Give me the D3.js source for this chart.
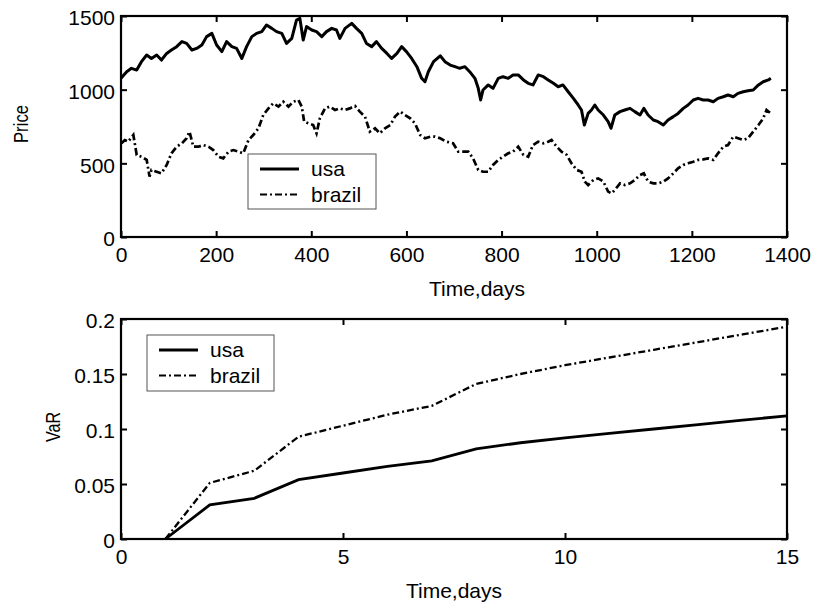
<!DOCTYPE html>
<meta charset="utf-8">
<script src="https://d3js.org/d3.v7.min.js"></script>
<style>
  body { margin: 0; background: #fff; }
  text { font-family: "Liberation Sans", Arial, sans-serif; font-size: 21px; fill: #000; }
</style>
<svg id="chart" width="813" height="603"></svg>
<script>

  // top panel: price series, [day, price]
  var usaPrice = [[0,1077],[12,1122],[22,1145],[33,1133],[43,1190],[54,1235],[64,1212],[75,1235],[85,1201],[96,1246],[106,1269],[117,1292],[128,1326],[138,1314],[149,1269],[159,1280],[170,1303],[180,1360],[191,1382],[201,1303],[212,1258],[222,1326],[233,1292],[243,1280],[254,1212],[264,1292],[275,1360],[285,1382],[296,1394],[306,1439],[317,1416],[327,1394],[338,1382],[348,1314],[359,1348],[369,1473],[376,1484],[383,1337],[390,1428],[401,1405],[411,1394],[422,1360],[432,1394],[443,1416],[453,1405],[460,1348],[471,1416],[485,1450],[495,1416],[506,1382],[516,1314],[527,1292],[537,1326],[548,1280],[559,1246],[569,1212],[580,1246],[590,1292],[600,1258],[611,1212],[622,1156],[632,1077],[639,1054],[646,1122],[657,1190],[671,1230],[681,1190],[692,1167],[702,1156],[712,1145],[723,1156],[733,1122],[744,1077],[751,1009],[756,930],[761,998],[772,1032],[782,1009],[793,1077],[803,1088],[814,1077],[824,1100],[835,1100],[846,1066],[856,1043],[866,1032],[877,1100],[888,1088],[898,1066],[909,1043],[919,1020],[929,1032],[940,986],[951,941],[961,896],[968,862],[974,760],[982,839],[989,862],[996,896],[1003,862],[1014,828],[1024,783],[1030,738],[1038,828],[1049,851],[1059,862],[1070,873],[1080,851],[1091,828],[1099,873],[1108,828],[1119,794],[1129,783],[1140,760],[1150,794],[1161,817],[1171,839],[1182,873],[1192,896],[1203,930],[1213,941],[1224,930],[1234,930],[1245,918],[1255,941],[1266,952],[1276,964],[1287,952],[1297,975],[1308,986],[1318,993],[1329,998],[1340,1032],[1350,1054],[1361,1066],[1366,1077]];

  var brazilPrice = [[1,636],[8,658],[15,647],[26,692],[33,557],[43,545],[54,523],[60,410],[64,455],[75,443],[85,432],[96,489],[106,568],[117,613],[128,636],[138,670],[144,715],[152,613],[163,613],[173,624],[184,613],[194,590],[205,545],[215,534],[226,579],[236,590],[247,579],[257,568],[268,658],[278,692],[289,738],[299,828],[310,873],[320,907],[331,885],[341,918],[352,885],[362,918],[373,930],[380,885],[385,783],[394,771],[404,760],[411,704],[418,805],[429,873],[439,885],[450,862],[460,873],[471,862],[481,873],[492,889],[502,851],[513,817],[523,715],[534,738],[544,704],[555,738],[566,760],[576,817],[587,851],[597,828],[608,805],[618,771],[629,692],[639,670],[650,681],[660,681],[671,670],[684,647],[698,636],[709,579],[719,579],[730,579],[740,534],[751,455],[761,443],[772,443],[782,489],[793,523],[803,545],[814,568],[824,579],[835,613],[846,557],[856,545],[866,624],[877,647],[888,636],[898,647],[905,658],[916,613],[926,579],[937,557],[947,500],[958,455],[968,443],[975,376],[982,353],[993,387],[1003,398],[1014,376],[1024,308],[1031,296],[1038,319],[1049,364],[1059,353],[1070,364],[1080,387],[1091,421],[1099,432],[1108,376],[1119,364],[1129,364],[1140,376],[1150,398],[1161,432],[1171,466],[1182,489],[1192,500],[1203,511],[1213,523],[1224,527],[1234,534],[1245,523],[1255,568],[1266,613],[1276,624],[1287,681],[1297,670],[1308,658],[1318,670],[1329,715],[1340,760],[1350,805],[1357,862],[1366,839]];

  // bottom panel: VaR by horizon
  var varDays = [1,2,3,4,5,6,7,8,9,10,11,12,13,14,15];
  var usaVaR = [0,0.031,0.037,0.054,0.060,0.066,0.071,0.082,0.0875,0.092,0.096,0.100,0.104,0.108,0.112];
  var brazilVaR = [0,0.051,0.062,0.093,0.103,0.113,0.121,0.141,0.150,0.158,0.165,0.172,0.179,0.186,0.193];

  var priceTicksX = [0,200,400,600,800,1000,1200,1400];
  var priceTicksY = [0,500,1000,1500];
  var varTicksX = [0,5,10,15];
  var varTicksY = [0,0.05,0.1,0.15,0.2];
  var seriesNames = ["usa","brazil"];

  var svg = d3.select("#chart");
  var dashDot = "7,3,2,3";

  function panel(top, bottom, xDom, yDom, xTicks, yTicks, yFmt) {
    var left = 121, right = 787;
    var x = d3.scaleLinear().domain(xDom).range([left, right]);
    var y = d3.scaleLinear().domain(yDom).range([bottom, top]);
    var g = svg.append("g");

    // inward ticks on all four sides
    g.append("g").attr("transform", "translate(0," + bottom + ")")
      .call(d3.axisBottom(x).tickValues(xTicks).tickSize(-6).tickSizeOuter(0).tickPadding(10.5).tickFormat(d3.format("d")));
    g.append("g").attr("transform", "translate(0," + top + ")")
      .call(d3.axisTop(x).tickValues(xTicks).tickSize(-6).tickSizeOuter(0).tickFormat(""));
    g.append("g").attr("transform", "translate(" + left + ",0)")
      .call(d3.axisLeft(y).tickValues(yTicks).tickSize(-6).tickSizeOuter(0).tickPadding(6).tickFormat(yFmt))
      .selectAll("text").attr("dy", "0.42em");
    g.append("g").attr("transform", "translate(" + right + ",0)")
      .call(d3.axisRight(y).tickValues(yTicks).tickSize(-6).tickSizeOuter(0).tickFormat(""));

    g.selectAll(".domain").remove();
    g.selectAll(".tick line").attr("stroke", "#000").attr("stroke-width", 2);
    g.selectAll(".tick text").attr("font-size", null).attr("font-family", null);

    g.append("rect")
      .attr("x", left).attr("y", top)
      .attr("width", right - left).attr("height", bottom - top)
      .attr("fill", "none").attr("stroke", "#000").attr("stroke-width", 2.2);

    return { g: g, x: x, y: y };
  }

  function legend(g, bx, by, w, h) {
    var lg = g.append("g").attr("transform", "translate(" + bx + "," + by + ")");
    lg.append("rect").attr("width", w).attr("height", h)
      .attr("fill", "#fff").attr("stroke", "#555").attr("stroke-width", 1);
    seriesNames.forEach(function (name, i) {
      var ly = 15 + i * 25.5;
      lg.append("line")
        .attr("x1", 12).attr("x2", 51).attr("y1", ly).attr("y2", ly)
        .attr("stroke", "#000").attr("stroke-width", i ? 2.2 : 2.8)
        .attr("stroke-dasharray", i ? dashDot : null);
      lg.append("text").attr("x", 63).attr("y", ly + 7).text(name);
    });
  }

  // ---- top: prices
  var p1 = panel(16, 237, [0, 1400], [0, 1500], priceTicksX, priceTicksY, d3.format("d"));
  var line1 = d3.line().x(function (d) { return p1.x(d[0]); }).y(function (d) { return p1.y(d[1]); });

  p1.g.append("path").datum(usaPrice).attr("d", line1)
    .attr("fill", "none").attr("stroke", "#000").attr("stroke-width", 3).attr("stroke-linejoin", "round");
  p1.g.append("path").datum(brazilPrice).attr("d", line1)
    .attr("fill", "none").attr("stroke", "#000").attr("stroke-width", 2.7)
    .attr("stroke-dasharray", dashDot);

  legend(p1.g, 248, 154, 128, 55);

  svg.append("text").attr("x", 477).attr("y", 296).attr("text-anchor", "middle").text("Time,days");
  svg.append("text").attr("transform", "translate(28,124) rotate(-90)")
    .attr("text-anchor", "middle").attr("textLength", 38).attr("lengthAdjust", "spacingAndGlyphs").text("Price");

  // ---- bottom: VaR
  var p2 = panel(319, 539, [0, 15], [0, 0.2], varTicksX, varTicksY, function (d) { return d3.format("~g")(d); });
  var line2 = d3.line().x(function (d) { return p2.x(d[0]); }).y(function (d) { return p2.y(d[1]); });

  p2.g.append("path").datum(d3.zip(varDays, usaVaR)).attr("d", line2)
    .attr("fill", "none").attr("stroke", "#000").attr("stroke-width", 2.8);
  p2.g.append("path").datum(d3.zip(varDays, brazilVaR)).attr("d", line2)
    .attr("fill", "none").attr("stroke", "#000").attr("stroke-width", 2.3)
    .attr("stroke-dasharray", dashDot);

  legend(p2.g, 147, 335, 127, 56);

  svg.append("text").attr("x", 454).attr("y", 598).attr("text-anchor", "middle").text("Time,days");
  svg.append("text").attr("transform", "translate(60,427) rotate(-90)")
    .attr("text-anchor", "middle").attr("textLength", 30).attr("lengthAdjust", "spacingAndGlyphs").text("VaR");

</script>
